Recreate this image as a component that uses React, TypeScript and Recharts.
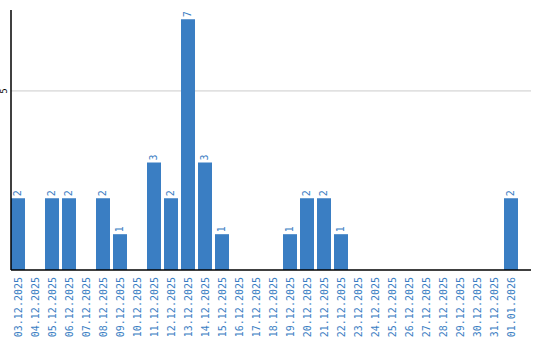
import { BarChart, Bar, XAxis, YAxis, CartesianGrid, LabelList } from 'recharts';

const dates = [
  '03.12.2025', '04.12.2025', '05.12.2025', '06.12.2025', '07.12.2025',
  '08.12.2025', '09.12.2025', '10.12.2025', '11.12.2025', '12.12.2025',
  '13.12.2025', '14.12.2025', '15.12.2025', '16.12.2025', '17.12.2025',
  '18.12.2025', '19.12.2025', '20.12.2025', '21.12.2025', '22.12.2025',
  '23.12.2025', '24.12.2025', '25.12.2025', '26.12.2025', '27.12.2025',
  '28.12.2025', '29.12.2025', '30.12.2025', '31.12.2025', '01.01.2026',
];
const counts = [2, 0, 2, 2, 0, 2, 1, 0, 3, 2, 7, 3, 1, 0, 0, 0, 1, 2, 2, 1, 0, 0, 0, 0, 0, 0, 0, 0, 0, 2];
const yTicks = [5];

const BLUE = '#3a7ec3';

const data = dates.map((d, i) => ({ date: d, value: counts[i] }));

// rotated date labels under the axis, top edge just below the baseline
function DateTick({ x, payload }: any) {
  return (
    <text
      transform={`translate(${x + 4},277) rotate(-90)`}
      textAnchor="end"
      fill={BLUE}
      fontSize={10}
      fontFamily="DejaVu Sans Mono"
    >
      {payload.value}
    </text>
  );
}

function ValueTick({ y, payload }: any) {
  return (
    <text
      transform={`translate(7,${y}) rotate(-90)`}
      textAnchor="middle"
      fill="#000"
      fontSize={8}
      fontFamily="DejaVu Sans"
    >
      {payload.value}
    </text>
  );
}

function BarValue({ x, y, width, value }: any) {
  if (!value) return null;
  const cx = x + width / 2 + 3;
  return (
    <text
      transform={`translate(${cx},${y - 2}) rotate(-90)`}
      textAnchor="start"
      fill={BLUE}
      fontSize={10}
      fontFamily="DejaVu Sans Mono"
    >
      {value}
    </text>
  );
}

export default function App() {
  return (
    <div style={{ position: 'absolute', left: 0, top: 0, background: '#fff' }}>
      <BarChart
        width={540}
        height={340}
        data={data}
        margin={{ top: 10, right: 9, left: 0, bottom: 0 }}
        barCategoryGap={1.5}
      >
        <CartesianGrid vertical={false} horizontalValues={yTicks} stroke="#cccccc" />
        <XAxis
          dataKey="date"
          interval={0}
          height={70}
          padding={{ left: -1.5, right: 11.5 }}
          tick={<DateTick />}
          tickLine={false}
          axisLine={{ stroke: '#000', strokeWidth: 1.5 }}
        />
        <YAxis
          width={11}
          domain={[0, 7.26]}
          ticks={yTicks}
          tick={<ValueTick />}
          tickLine={false}
          axisLine={{ stroke: '#000', strokeWidth: 1.5 }}
        />
        <Bar dataKey="value" fill={BLUE} isAnimationActive={false}>
          <LabelList dataKey="value" content={<BarValue />} />
        </Bar>
      </BarChart>
    </div>
  );
}
